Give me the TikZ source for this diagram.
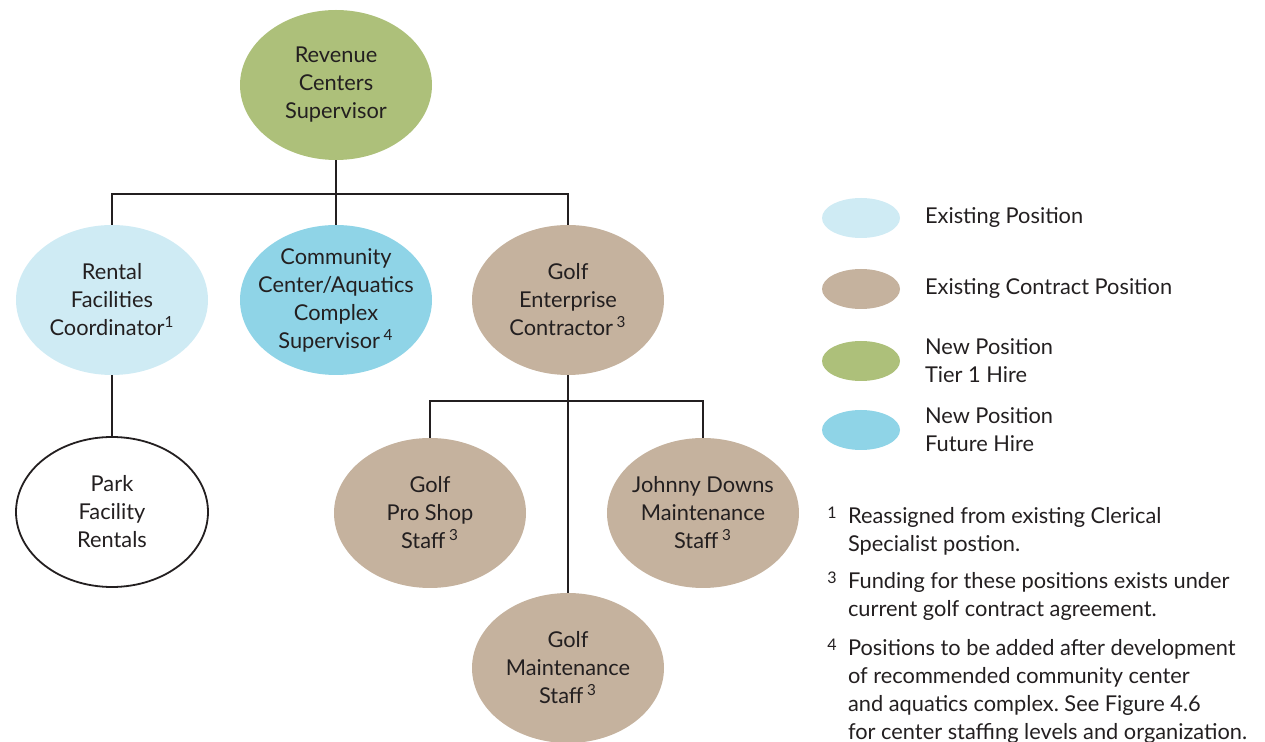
\documentclass[tikz,border=0pt]{standalone}
\usepackage{fontspec}
\setmainfont{Lato}
\usetikzlibrary{shapes.geometric}
\definecolor{tierone}{HTML}{ADC07A}
\definecolor{existpos}{HTML}{CFEBF4}
\definecolor{futurepos}{HTML}{8FD4E7}
\definecolor{contractpos}{HTML}{C5B29E}
\definecolor{inktext}{HTML}{231F20}
\frenchspacing

\begin{document}
\begin{tikzpicture}[x=0.5pt, y=-0.5pt,
    font=\fontsize{10.9}{14}\selectfont, text=inktext,
    post/.style={ellipse, fill=#1, inner sep=0pt, inner xsep=-14pt,
                 minimum width=96pt, minimum height=75pt,
                 align=center},
    key/.style={ellipse, fill=#1, inner sep=0pt,
                minimum width=39pt, minimum height=20pt},
    fnmark/.style={anchor=north east, inner xsep=2pt,
                   font=\fontsize{8}{9}\selectfont},
    link/.style={draw=inktext, line width=0.9pt}]

  \useasboundingbox (0,0) rectangle (1265,742);

  %% Top
  \node[post=tierone] (rev) at (336,85) {Revenue\\Centers\\Supervisor};

  %% Second tier
  \node[post=existpos] (rent) at (112,300)
    {Rental\\Facilities\\Coordinator\textsuperscript{1}};
  \node[post=futurepos] (comm) at (336,300)
    {Community\\Center/Aquatics\\Complex\\Supervisor\,\textsuperscript{4}};
  \node[post=contractpos] (golf) at (568,300)
    {Golf\\Enterprise\\Contractor\,\textsuperscript{3}};

  %% Third tier
  \node[post=white, draw=inktext, line width=0.9pt] (park) at (112,512)
    {Park\\Facility\\Rentals};
  \node[post=contractpos] (pro) at (430,513)
    {Golf\\Pro Shop\\Staff\,\textsuperscript{3}};
  \node[post=contractpos] (johnny) at (703,513)
    {Johnny Downs\\Maintenance\\Staff\,\textsuperscript{3}};
  \node[post=contractpos] (maint) at (568,668)
    {Golf\\Maintenance\\Staff\,\textsuperscript{3}};

  %% Connectors
  \coordinate (bus1) at (336,194);
  \coordinate (bus2) at (568,401);
  \draw[link] (rev) -- (bus1);
  \draw[link] (bus1) -| (rent);
  \draw[link] (bus1) -| (golf);
  \draw[link] (bus1) -- (comm);
  \draw[link] (rent) -- (park);
  \draw[link] (golf) -- (bus2);
  \draw[link] (bus2) -| (pro);
  \draw[link] (bus2) -| (johnny);
  \draw[link] (bus2) -- (maint);

  %% Legend
  \node[key=existpos]    (k1) at (861,218) {};
  \node[key=contractpos] (k2) at (861,289) {};
  \node[key=tierone]     (k3) at (861,361) {};
  \node[key=futurepos]   (k4) at (861,430) {};
  \node[anchor=west, align=left] (t1) at (918,218) {Existing Position};
  \node[anchor=west, align=left] (t2) at (918,289) {Existing Contract Position};
  \node[anchor=west, align=left] (t3) at (918,361) {New Position\\Tier 1 Hire};
  \node[anchor=west, align=left] (t4) at (918,430) {New Position\\Future Hire};

  %% Footnotes
  \node[anchor=north west, align=left] (n1) at (841,500)
    {Reassigned from existing Clerical\\Specialist postion.};
  \node[fnmark] (s1) at (n1.north west) {1};
  \node[anchor=north west, align=left] (n3) at (841,565)
    {Funding for these positions exists under\\current golf contract agreement.};
  \node[fnmark] (s3) at (n3.north west) {3};
  \node[anchor=north west, align=left] (n4) at (841,632)
    {Positions to be added after development\\of recommended community center\\and aquatics complex. See Figure 4.6\\for center staffing levels and organization.};
  \node[fnmark] (s4) at (n4.north west) {4};
\end{tikzpicture}
\end{document}
